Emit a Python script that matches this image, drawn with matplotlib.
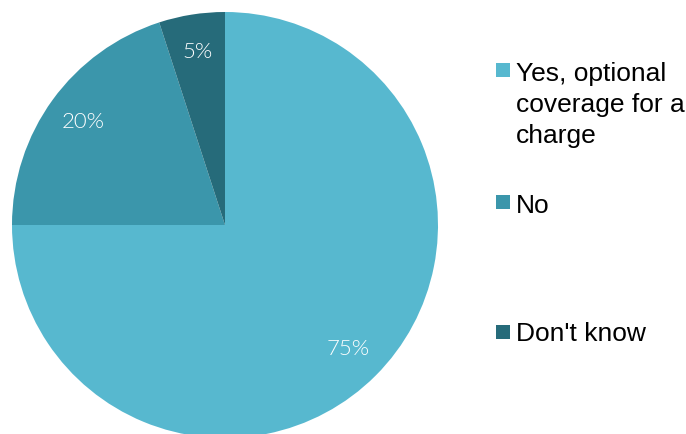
import matplotlib.pyplot as plt
from matplotlib.patches import Rectangle

# data
labels = ["Yes, optional\ncoverage for a\ncharge", "No", "Don't know"]
values = [75, 20, 5]
pct_labels = ["75%", "20%", "5%"]
colors = ["#57B8CF", "#3B96AB", "#266B7A"]

W, H = 686, 434
fig = plt.figure(figsize=(W / 100, H / 100), dpi=100)

# pie: centre (225, 225) px, radius 213 px
cx, cy, r = 225, 225, 213
ax = fig.add_axes([(cx - r) / W, (H - cy - r) / H, 2 * r / W, 2 * r / H])
wedges, texts = ax.pie(values, colors=colors, startangle=90, counterclock=False,
                       labels=pct_labels, labeldistance=0.82,
                       wedgeprops=dict(linewidth=0),
                       textprops=dict(color="white", fontsize=16,
                                      family=["Lato", "DejaVu Sans"], fontweight=300))
for t in texts:
    t.set_ha("center")
    t.set_va("center")
ax.set_xlim(-1, 1)
ax.set_ylim(-1, 1)
ax.set_aspect("equal")
ax.axis("off")

# legend drawn by hand (uneven spacing in the original)
sq_top = [63, 195, 325]
txt_mid = [73, 206, 334]
for c, lab, st, tm in zip(colors, labels, sq_top, txt_mid):
    fig.add_artist(Rectangle((496 / W, 1 - (st + 14) / H), 14 / W, 14 / H,
                             transform=fig.transFigure, color=c, lw=0))
    if "\n" in lab:
        fig.text(516 / W, 1 - (tm - 11) / H, lab, fontsize=19, family="Liberation Sans",
                 va="top", ha="left", linespacing=1.36, color="black")
    else:
        fig.text(516 / W, 1 - tm / H, lab, fontsize=19, family="Liberation Sans",
                 va="center", ha="left", color="black")

fig.savefig("out.png", dpi=100)
